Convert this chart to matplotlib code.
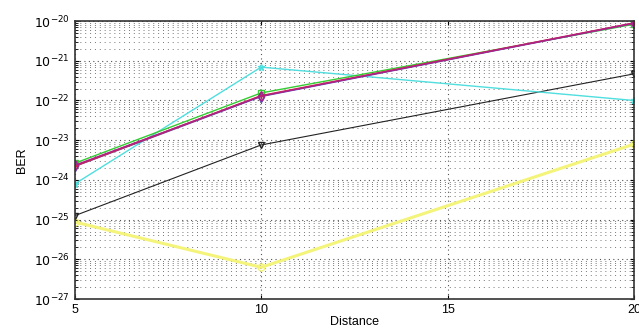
import numpy as np
import matplotlib.pyplot as plt
from matplotlib.ticker import LogLocator, NullFormatter

distance = [5, 10, 20]

# log10(BER)
ber_green = [-23.58, -21.81, -20.08]
ber_magenta = [-23.63, -21.89, -20.05]
ber_red = [-23.65, -21.88, -20.05]
ber_blue = [-23.66, -21.90, -20.06]
ber_cyan = [-24.10, -21.16, -22.00]
ber_black = [-24.90, -23.12, -21.33]
ber_yellow = [-25.06, -26.20, -23.10]

decades = [-27, -26, -25, -24, -23, -22, -21, -20]

series = [
    (ber_yellow, '#f4f47a', 'o', 2.2),
    (ber_black, '#222222', 'v', 0.8),
    (ber_cyan, '#50dede', '*', 1.0),
    (ber_green, '#33cc33', 's', 1.0),
    (ber_blue, '#5050c0', 'd', 1.0),
    (ber_red, '#dd2244', '+', 1.2),
    (ber_magenta, '#aa2288', 'd', 1.0),
]

plt.rcParams['font.family'] = ['Liberation Sans', 'DejaVu Sans']

fig = plt.figure(figsize=(6.39, 3.29), dpi=100)
ax = fig.add_axes([0.117, 0.091, 0.875, 0.845])

for vals, col, mk, lw in series:
    ax.semilogy(distance, 10.0 ** np.array(vals), color=col, marker=mk,
                markersize=5, markerfacecolor='none', markeredgecolor=col,
                linewidth=lw)

ax.set_xlim(5, 20)
ax.set_ylim(1e-27, 1e-20)
ax.set_xticks([5, 10, 15, 20])
ax.set_yticks([10.0 ** d for d in decades])
ax.set_yticklabels([r'$10^{%d}$' % d for d in decades])
ax.yaxis.set_minor_locator(LogLocator(base=10, subs=np.arange(2, 10), numticks=50))
ax.yaxis.set_minor_formatter(NullFormatter())

ax.grid(True, which='major', linestyle=(0, (1, 3)), color='#555555', linewidth=0.8)
ax.grid(True, which='minor', axis='y', linestyle=(0, (1, 4)), color='#777777', linewidth=0.7)

ax.tick_params(direction='in', labelsize=9, top=True, right=True, which='both', length=3)
ax.tick_params(which='minor', length=2)
for sp in ax.spines.values():
    sp.set_linewidth(1.2)
    sp.set_color('#333333')

ax.set_xlabel('Distance', fontsize=9, labelpad=0)
ax.set_ylabel('BER', fontsize=9)

fig.savefig('out.png', dpi=100)
